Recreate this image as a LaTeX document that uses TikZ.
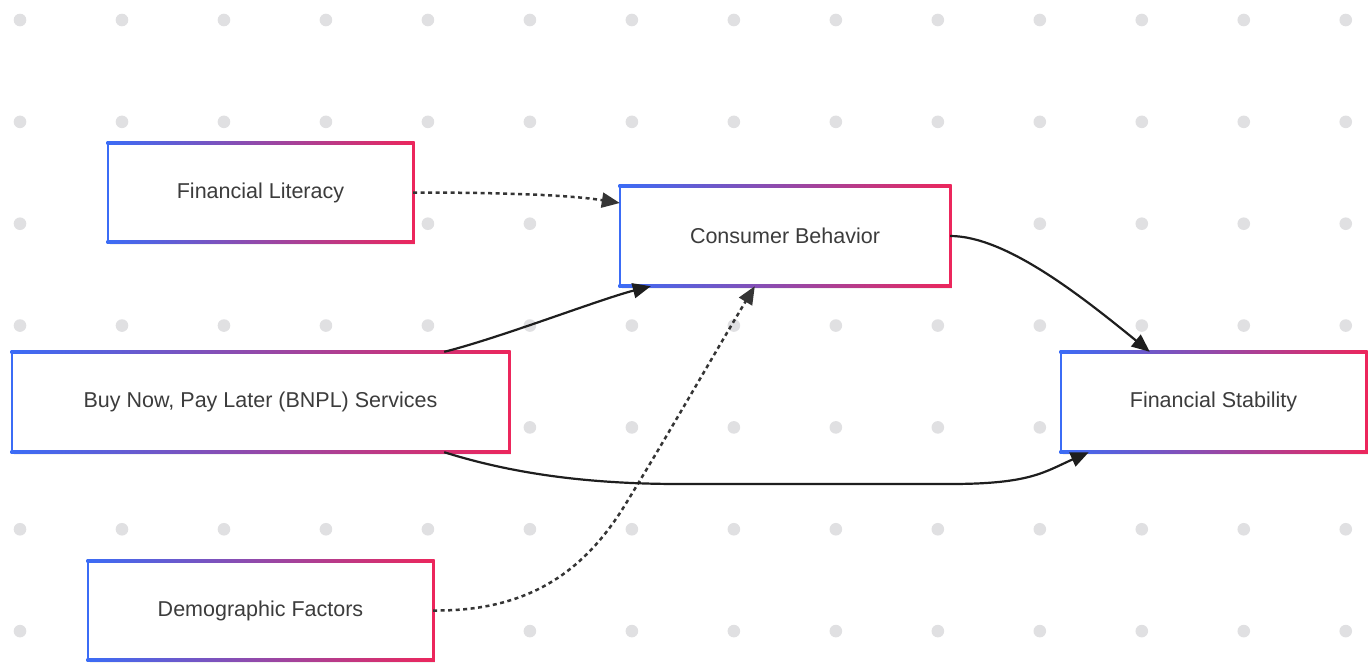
\documentclass[tikz,border=0pt]{standalone}
\usepackage{fontspec}
\setmainfont{Liberation Sans}
\usetikzlibrary{arrows.meta,shadows}
\definecolor{cblue}{RGB}{59,108,246}
\definecolor{cpink}{RGB}{236,38,92}
\definecolor{dotc}{RGB}{224,224,226}
\definecolor{txtc}{RGB}{60,60,60}
\definecolor{linec}{RGB}{30,30,30}
\tikzset{
  gbox/.style={draw=none, fill=white, inner sep=0pt, text=txtc,
    font=\fontsize{21.5}{26}\selectfont,
    drop shadow={opacity=0.10, shadow xshift=1.5pt, shadow yshift=-2.5pt}},
  solidlink/.style={draw=linec, line width=2.2pt, -{Triangle[length=18pt,width=15pt]}},
  dotlink/.style={draw=linec!90, line width=2.5pt, dash pattern=on 4pt off 3.5pt,
    -{Triangle[length=18pt,width=15pt]}}
}
\newcommand{\gborder}[1]{%
  \fill[cblue] ([shift={(-1.3pt,1.3pt)}]#1.north west) rectangle ([shift={(1.3pt,-1.3pt)}]#1.south west);
  \fill[cpink] ([shift={(-1.3pt,1.3pt)}]#1.north east) rectangle ([shift={(1.3pt,-1.3pt)}]#1.south east);
  \shade[left color=cblue, right color=cpink] ([shift={(-1.3pt,1.3pt)}]#1.north west) rectangle ([shift={(1.3pt,-1.3pt)}]#1.north east);
  \shade[left color=cblue, right color=cpink] ([shift={(-1.3pt,1.3pt)}]#1.south west) rectangle ([shift={(1.3pt,-1.3pt)}]#1.south east);
}
\begin{document}
\begin{tikzpicture}[x=1pt,y=-1pt]
\useasboundingbox[fill=white] (0,0) rectangle (1372,662);
% dot grid
\foreach \i in {0,...,13}{
  \foreach \j in {0,...,6}{
    \fill[dotc] ({20+101.98*\i},{20+101.85*\j}) circle (6.3);
  }
}
% nodes
\node[gbox, minimum width=305pt, minimum height=99pt] (fl) at (260.5,192.5) {Financial Literacy};
\node[gbox, minimum width=330pt, minimum height=100pt] (cb) at (785,236) {Consumer Behavior};
\node[gbox, minimum width=497pt, minimum height=100pt] (bnpl) at (260.5,402) {Buy Now, Pay Later (BNPL) Services};
\node[gbox, minimum width=305pt, minimum height=100pt] (fs) at (1213.5,402) {Financial Stability};
\node[gbox, minimum width=345pt, minimum height=99pt] (df) at (260.5,610.5) {Demographic Factors};
\gborder{fl}
\gborder{cb}
\gborder{bnpl}
\gborder{fs}
\gborder{df}
% helper coordinates
\coordinate (dmid) at (625,505);
\coordinate (b1) at (680,484);
\coordinate (b2) at (950,484);
% connectors
\draw[dotlink] (fl.east) .. controls +(90,0) and +(-50,-8) .. ([yshift=33pt]cb.west);
\draw[solidlink] ([xshift=-65pt]bnpl.north east) .. controls +(56,-14) and +(-51,13) .. ([xshift=31pt]cb.south west);
\draw[dotlink] (df.east) .. controls +(97,1) and +(-40,65) .. (dmid) .. controls +(40,-65) and +(-35,58) .. ([xshift=135pt]cb.south west);
\draw[solidlink] (cb.east) .. controls +(55,0) and +(-70,-57) .. ([xshift=89pt]fs.north west);
\draw[solidlink] ([xshift=-65pt]bnpl.south east) .. controls +(70,22) and +(-90,0) .. (b1) -- (b2) .. controls +(80,0) and +(-45,20) .. ([xshift=28pt]fs.south west);
\end{tikzpicture}
\end{document}
